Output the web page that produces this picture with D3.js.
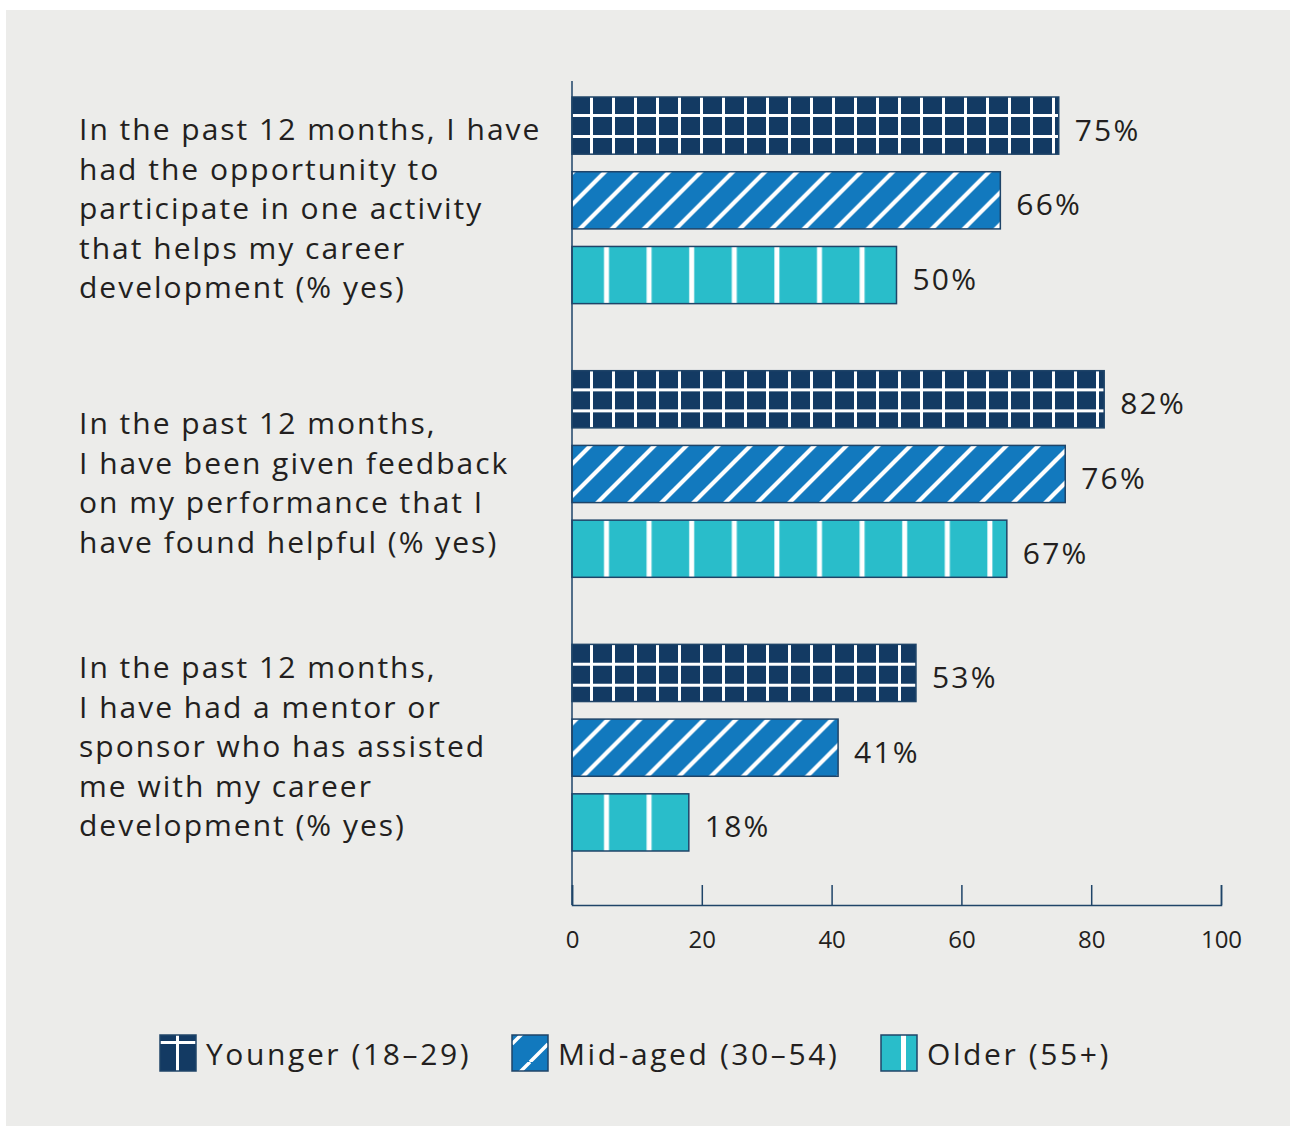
<!DOCTYPE html>
<html>
<head>
<meta charset="utf-8">
<script src="https://cdn.jsdelivr.net/npm/d3@7"></script>
<style>
  html, body { margin: 0; padding: 0; background: #ffffff; }
  svg text { font-family: "Open Sans", "Noto Sans", sans-serif; fill: #231f20; }
</style>
</head>
<body>
<svg id="chart" width="1290" height="1126"></svg>
<script>
// questions (one per group), split in lines as in the original
var questions = [
    ["In the past 12 months, I have", "had the opportunity to", "participate in one activity", "that helps my career", "development (% yes)"],
    ["In the past 12 months,", "I have been given feedback", "on my performance that I", "have found helpful (% yes)"],
    ["In the past 12 months,", "I have had a mentor or", "sponsor who has assisted", "me with my career", "development (% yes)"]
]
var seriesNames = ["Younger (18\u201329)", "Mid-aged (30\u201354)", "Older (55+)"]
var younger = [75, 82, 53]
var midaged = [66, 76, 41]
var older = [50, 67, 18]
var ticks = [0, 20, 40, 60, 80, 100]

var width = 1290, height = 1126
var svg = d3.select("#chart")

// grey panel
svg.append("rect")
    .attr("x", 6).attr("y", 10)
    .attr("width", width - 6).attr("height", height - 10)
    .attr("fill", "#ececea")

var x = d3.scaleLinear().domain([0, 100]).range([572, 1221])

// each group is 3 bars, outer band does the groups, inner band the bars
var groupY = d3.scaleBand().domain(d3.range(questions.length)).range([97, 851]).paddingInner(0.245)
var barY = d3.scaleBand().domain(d3.range(seriesNames.length)).range([0, groupY.bandwidth()]).paddingInner(0.235)

var colors = ["#133a63", "#1279be", "#29bdca"]
var strokeCol = "#1f4468"
var defs = svg.append("defs")

// patterns are made per bar so the lines start at the bar's own corner
function makePattern(id, kind, x0, y0) {
    var p
    if (kind == 0) {
        p = defs.append("pattern").attr("id", id)
            .attr("patternUnits", "userSpaceOnUse")
            .attr("x", x0).attr("y", y0).attr("width", 22).attr("height", 21)
        p.append("rect").attr("width", 22).attr("height", 21).attr("fill", colors[0])
        p.append("rect").attr("x", 18).attr("y", 0).attr("width", 3).attr("height", 21).attr("fill", "#fff")
        p.append("rect").attr("x", 0).attr("y", 4).attr("width", 22).attr("height", 3).attr("fill", "#fff")
    } else if (kind == 1) {
        p = defs.append("pattern").attr("id", id)
            .attr("patternUnits", "userSpaceOnUse")
            .attr("x", x0).attr("y", y0).attr("width", 32).attr("height", 32)
        p.append("rect").attr("width", 32).attr("height", 32).attr("fill", colors[1])
        p.append("path").attr("d", "M-8,8 L8,-8 M-8,40 L40,-8 M24,40 L40,24")
            .attr("stroke", "#fff").attr("stroke-width", 4.2)
    } else {
        p = defs.append("pattern").attr("id", id)
            .attr("patternUnits", "userSpaceOnUse")
            .attr("x", x0).attr("y", y0).attr("width", 42.6).attr("height", 60)
        p.append("rect").attr("width", 42.6).attr("height", 60).attr("fill", colors[2])
        p.append("rect").attr("x", 32).attr("y", 0).attr("width", 5).attr("height", 60).attr("fill", "#fff")
    }
}

var values = [younger, midaged, older]

questions.forEach(function(q, gi) {
    var g = svg.append("g").attr("transform", "translate(0," + groupY(gi) + ")")
    values.forEach(function(vals, si) {
        var y0 = groupY(gi) + barY(si)
        var id = "pat-" + gi + "-" + si
        makePattern(id, si, x(0), y0)
        g.append("rect")
            .attr("x", x(0))
            .attr("y", barY(si))
            .attr("width", x(vals[gi]) - x(0))
            .attr("height", barY.bandwidth())
            .attr("fill", "url(#" + id + ")")
            .attr("stroke", strokeCol)
            .attr("stroke-width", 1.5)
        g.append("text")
            .attr("x", x(vals[gi]) + 16)
            .attr("y", barY(si) + barY.bandwidth() / 2 + 15)
            .attr("font-size", 30)
            .attr("letter-spacing", 2.2)
            .text(vals[gi] + "%")
    })
})

// question labels
var labelTop = [140, 434, 678]
questions.forEach(function(q, gi) {
    var t = svg.append("text").attr("font-size", 30).attr("letter-spacing", 2)
    q.forEach(function(line, li) {
        t.append("tspan").attr("x", 79).attr("y", labelTop[gi] + li * 39.6).text(line)
    })
})

// vertical axis line
svg.append("line")
    .attr("x1", x(0)).attr("x2", x(0))
    .attr("y1", 81).attr("y2", 905)
    .attr("stroke", strokeCol).attr("stroke-width", 1.5)

// bottom axis
var axis = svg.append("g").attr("transform", "translate(0,905)")
    .call(d3.axisBottom(x).tickValues(ticks).tickSize(-20).tickPadding(0).tickFormat(d3.format("d")))
axis.attr("font-family", null)
axis.select(".domain").attr("stroke", strokeCol).attr("stroke-width", 1.5)
axis.selectAll(".tick line").attr("stroke", strokeCol).attr("stroke-width", 1.5)
axis.selectAll(".tick text")
    .attr("y", 43).attr("dy", null)
    .attr("font-size", 24).attr("fill", "#231f20")

// legend
var legX = [160, 512, 881]
var leg = svg.append("g").attr("transform", "translate(0,1035)")
seriesNames.forEach(function(name, si) {
    var id = "leg-" + si
    var p = defs.append("pattern").attr("id", id).attr("patternUnits", "userSpaceOnUse")
        .attr("x", legX[si]).attr("y", 1035).attr("width", 36).attr("height", 36)
    p.append("rect").attr("width", 36).attr("height", 36).attr("fill", colors[si])
    if (si == 0) {
        p.append("rect").attr("x", 16).attr("y", 0).attr("width", 3).attr("height", 36).attr("fill", "#fff")
        p.append("rect").attr("x", 0).attr("y", 15).attr("width", 36).attr("height", 3).attr("fill", "#fff")
    } else if (si == 1) {
        p.append("path").attr("d", "M0,18 L18,0 M18,36 L36,18").attr("stroke", "#fff").attr("stroke-width", 3.5)
    } else {
        p.append("rect").attr("x", 20).attr("y", 0).attr("width", 5).attr("height", 36).attr("fill", "#fff")
    }
    leg.append("rect")
        .attr("x", legX[si]).attr("y", 0)
        .attr("width", 36).attr("height", 36)
        .attr("fill", "url(#" + id + ")")
        .attr("stroke", strokeCol).attr("stroke-width", 1.5)
    leg.append("text")
        .attr("x", legX[si] + 46).attr("y", 30)
        .attr("font-size", 30)
        .attr("letter-spacing", 2.6)
        .text(name)
})
</script>
</body>
</html>
